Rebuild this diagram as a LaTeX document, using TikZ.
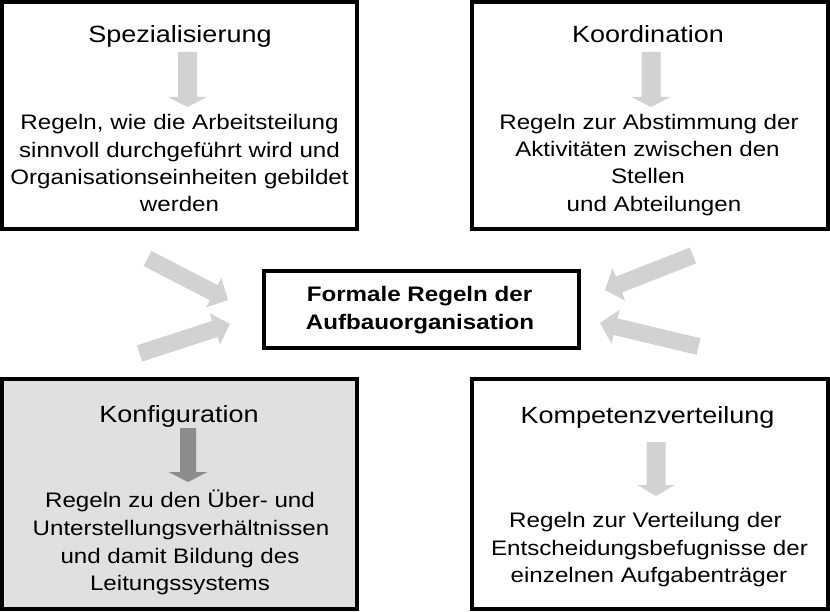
\documentclass[tikz,border=0pt]{standalone}
\usepackage{fontspec}
\setmainfont{Liberation Sans}[FakeStretch=1.15]
\usetikzlibrary{calc}
\definecolor{arrowlight}{RGB}{210,210,210}
\definecolor{arrowdark}{RGB}{140,140,140}
\definecolor{boxfill}{RGB}{224,224,224}
% #1 tail, #2 tip, #3 half shaft width, #4 half head width, #5 head length, #6 colour
\newcommand\blockarrow[6]{%
  \coordinate (#1h) at ($(#2)!#5!(#1)$);
  \fill[#6] ($(#1)!#3!90:(#2)$) -- ($(#1h)!#3!90:(#2)$) -- ($(#1h)!#4!90:(#2)$)
    -- (#2) -- ($(#1h)!#4!-90:(#2)$) -- ($(#1h)!#3!-90:(#2)$) -- ($(#1)!#3!-90:(#2)$) -- cycle;}
\begin{document}
\begin{tikzpicture}[x=1pt,y=-1pt,
  box/.style={draw=black,line width=4pt,rectangle,inner sep=0pt,outer sep=0pt},
  ttl/.style={anchor=base,inner sep=0pt,font=\fontsize{23.5}{28}\selectfont},
  txt/.style={anchor=base,inner sep=0pt,font=\fontsize{21}{27.5}\selectfont},
  ctr/.style={anchor=base,inner sep=0pt,font=\bfseries\fontsize{21}{28}\selectfont}]
\useasboundingbox (0,0) rectangle (830,612);
\fill[white] (0,0) rectangle (830,612);
% boxes
\node[box,minimum width=355pt,minimum height=227pt] (tl) at (179.5,115.5) {};
\node[box,minimum width=356pt,minimum height=227pt] (tr) at (650,115.5) {};
\node[box,fill=boxfill,minimum width=355pt,minimum height=230pt] (bl) at (179.5,494) {};
\node[box,minimum width=356pt,minimum height=229.5pt] (br) at (650,493.75) {};
\node[box,minimum width=315pt,minimum height=76.5pt] (c) at (421.5,309.25) {};
% centre text
\node[ctr] (c1) at (419.5,302) {Formale Regeln der};
\node[ctr] (c2) at (420,330) {Aufbauorganisation};
% top left
\node[ttl] (tlt) at (180,43) {Spezialisierung};
\node[txt] (tl1) at (179.5,130) {Regeln, wie die Arbeitsteilung};
\node[txt] (tl2) at (179.5,157.5) {sinnvoll durchgeführt wird und};
\node[txt] (tl3) at (179.5,185) {Organisationseinheiten gebildet};
\node[txt] (tl4) at (179.5,212) {werden};
% top right
\node[ttl] (trt) at (648,43) {Koordination};
\node[txt] (tr1) at (649,130) {Regeln zur Abstimmung der};
\node[txt] (tr2) at (647.5,157) {Aktivitäten zwischen den};
\node[txt] (tr3) at (648,184) {Stellen};
\node[txt] (tr4) at (654,212) {und Abteilungen};
% bottom left
\node[ttl] (blt) at (179,422) {Konfiguration};
\node[txt] (bl1) at (180,507) {Regeln zu den Über- und};
\node[txt] (bl2) at (181,535) {Unterstellungsverhältnissen};
\node[txt] (bl3) at (180,563) {und damit Bildung des};
\node[txt] (bl4) at (180,590) {Leitungssystems};
% bottom right
\node[ttl] (brt) at (647.5,423) {Kompetenzverteilung};
\node[txt] (br1) at (645.5,527) {Regeln zur Verteilung der};
\node[txt] (br2) at (649.5,555) {Entscheidungsbefugnisse der};
\node[txt] (br3) at (649,582) {einzelnen Aufgabenträger};
% small arrows inside boxes
\coordinate (tla) at (187.5,52); \coordinate (tlb) at (187.5,107);
\coordinate (tra) at (651,52);   \coordinate (trb) at (651,107);
\coordinate (bla) at (188,428);  \coordinate (blb) at (188,482);
\coordinate (bra) at (656,442);  \coordinate (brb) at (656,496);
\blockarrow{tla}{tlb}{9.5pt}{19.5pt}{10pt}{arrowlight}
\blockarrow{tra}{trb}{9.5pt}{19.5pt}{10pt}{arrowlight}
\blockarrow{bla}{blb}{8pt}{19.5pt}{10pt}{arrowdark}
\blockarrow{bra}{brb}{9.5pt}{18.5pt}{11pt}{arrowlight}
% big arrows towards centre
\coordinate (lua) at (147.5,258.5); \coordinate (lub) at (228,300);
\coordinate (lla) at (139.5,353.5); \coordinate (llb) at (230,324);
\coordinate (rua) at (693,255.5);   \coordinate (rub) at (605,290);
\coordinate (rla) at (698.5,346.5); \coordinate (rlb) at (600,323);
\blockarrow{lua}{lub}{8.5pt}{16.5pt}{16pt}{arrowlight}
\blockarrow{lla}{llb}{8.5pt}{16.5pt}{16pt}{arrowlight}
\blockarrow{rua}{rub}{8.5pt}{17.5pt}{15pt}{arrowlight}
\blockarrow{rla}{rlb}{8.5pt}{17.5pt}{16pt}{arrowlight}
\end{tikzpicture}
\end{document}
